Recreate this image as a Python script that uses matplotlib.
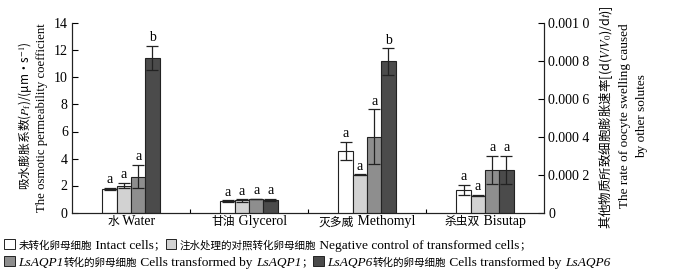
import numpy as np
import matplotlib
matplotlib.use("Agg")
import matplotlib.pyplot as plt
from matplotlib.patches import Rectangle
from matplotlib.offsetbox import HPacker, TextArea, DrawingArea, AnchoredOffsetbox
from matplotlib.transforms import blended_transform_factory

plt.rcParams['font.family'] = ['Liberation Serif', 'Noto Sans CJK SC']
plt.rcParams['mathtext.fontset'] = 'stix'

# ---------------- data ----------------
groups_cn = ["水", "甘油", "灭多威", "杀虫双"]
groups_en = ["Water", "Glycerol", "Methomyl", "Bisutap"]
# Water on left axis (Pf, um/s)
water_vals = [1.75, 2.0, 2.66, 11.45]
water_errs = [0.1, 0.22, 0.88, 0.9]
# Other solutes on right axis (d(V/V0)/dt)
glycerol_vals = [0.000061, 0.000064, 0.000071, 0.000066]
glycerol_errs = [0.000004, 0.000006, 0.000002, 0.000006]
methomyl_vals = [0.000326, 0.000201, 0.000400, 0.000800]
methomyl_errs = [0.000049, 0.000002, 0.000146, 0.000070]
bisutap_vals = [0.000121, 0.000089, 0.000224, 0.000224]
bisutap_errs = [0.000026, 0.000004, 0.000075, 0.000075]
letters = [["a", "a", "a", "b"],
           ["a", "a", "a", "a"],
           ["a", "a", "a", "b"],
           ["a", "a", "a", "a"]]
left_ticks = [0, 2, 4, 6, 8, 10, 12, 14]
right_ticks = [0, 0.0002, 0.0004, 0.0006, 0.0008, 0.0010]
right_ticklabels = ["0", "0.000 2", "0.000 4", "0.000 6", "0.000 8", "0.001 0"]
colors = ["#ffffff", "#d2d2d2", "#8e8e8e", "#4b4b4b"]

LAT = 'Liberation Serif'
CJK = 'Noto Sans CJK SC'
FS = 10      # latin text size
FS_CJK = 8   # chinese text size

fig = plt.figure(figsize=(6.85, 2.76), dpi=100)
ax = fig.add_axes([72/685, 1-212.5/276, (544-72)/685, (212.5-23.5)/276])
ax2 = ax.twinx()

bw = 0.121
offsets = (np.arange(4) - 1.5) * bw
edge = "#222222"
ecol = "#222222"

# water on left axis
for i in range(4):
    x = 0 + offsets[i]
    ax.bar(x, water_vals[i], bw, color=colors[i], edgecolor=edge, linewidth=0.8)
    ax.errorbar(x, water_vals[i], yerr=water_errs[i], fmt='none', ecolor=ecol,
                elinewidth=0.9, capsize=4.5, capthick=0.9)
    ax.text(x, water_vals[i] + water_errs[i] + 0.12, letters[0][i], ha='center',
            va='bottom', fontsize=FS, family=LAT)

# others on right axis
others = [(glycerol_vals, glycerol_errs), (methomyl_vals, methomyl_errs),
          (bisutap_vals, bisutap_errs)]
for g, (vals, errs) in enumerate(others, start=1):
    for i in range(4):
        x = g + offsets[i]
        ax2.bar(x, vals[i], bw, color=colors[i], edgecolor=edge, linewidth=0.8)
        ax2.errorbar(x, vals[i], yerr=errs[i], fmt='none', ecolor=ecol,
                     elinewidth=0.9, capsize=4.5, capthick=0.9)
        ax2.text(x, vals[i] + errs[i] + 0.000008, letters[g][i], ha='center',
                 va='bottom', fontsize=FS, family=LAT)

ax.set_xlim(-0.5, 3.5)
ax.set_ylim(0, 14)
ax2.set_ylim(0, 0.001)
ax.set_yticks(left_ticks)
ax.set_yticklabels([str(t) for t in left_ticks], fontsize=FS, family=LAT)
ax2.set_yticks(right_ticks)
ax2.set_yticklabels(right_ticklabels, fontsize=FS, family=LAT)
ax.set_xticks(range(4))
ax.set_xticklabels([""] * 4)
ax.set_xticks([0.5, 1.5, 2.5], minor=True)
ax.tick_params(axis='x', which='major', length=0)
ax.tick_params(axis='x', which='minor', direction='in', length=3, width=0.8)
ax.tick_params(axis='y', direction='in', length=4, width=0.8, pad=3)
ax2.tick_params(axis='y', direction='in', length=4, width=0.8, pad=3)
for a in (ax, ax2):
    a.spines['top'].set_visible(False)
    for s in ('left', 'right', 'bottom'):
        a.spines[s].set_linewidth(0.8)
        a.spines[s].set_color('#222222')

def ta(s, italic=False, cjk=False, size=None):
    fam = [CJK, LAT] if cjk else [LAT, CJK]
    fs = size if size is not None else (FS_CJK if cjk else FS)
    return TextArea(s, textprops=dict(fontsize=fs, style='italic' if italic else 'normal',
                                      family=fam))

# group labels (mixed Chinese / English sizes)
trans = blended_transform_factory(ax.transData, ax.transAxes)
for i in range(4):
    lab = HPacker(children=[ta(groups_cn[i], cjk=True, size=8.5), ta(" " + groups_en[i])],
                  align='baseline', pad=0, sep=0)
    ab = AnchoredOffsetbox(loc='upper center', child=lab, pad=0, frameon=False,
                           bbox_to_anchor=(i, -0.015), bbox_transform=trans, borderpad=0)
    ax.add_artist(ab)

# y labels
fig.text(25/685, 1-116/276, "吸水膨胀系数($P_\\mathrm{f}$)/(μm·s$^{-1}$)", rotation=90,
         ha='center', va='center', fontsize=8.5, family=CJK)
fig.text(42/685, 1-118/276, "The osmotic permeability coefficient", rotation=90,
         ha='center', va='center', fontsize=9.2, family=LAT)
fig.text(606/685, 1-117/276, "其他物质所致细胞膨胀速率[(d($V/V_0$)/d$t$)]", rotation=90,
         ha='center', va='center', fontsize=9.0, family=CJK)
fig.text(625/685, 1-116/276, "The rate of oocyte swelling caused", rotation=90,
         ha='center', va='center', fontsize=9.5, family=LAT)
fig.text(642/685, 1-116/276, "by other solutes", rotation=90,
         ha='center', va='center', fontsize=9.5, family=LAT)

# custom legend rows
LFS = 9.6
LFS_CJK = 7.6

def box(color):
    da = DrawingArea(11, 8, 0, 0)
    da.add_artist(Rectangle((1, 0), 7.5, 7.5, facecolor=color, edgecolor='#222222', lw=0.7))
    return da

def lt(s, italic=False):
    return ta(s, italic=italic, size=LFS)

def lc(s):
    return ta(s, cjk=True, size=LFS_CJK)

row1 = HPacker(children=[box(colors[0]), lc("未转化卵母细胞"), lt(" Intact cells"), lc("；"),
                         box(colors[1]), lc("注水处理的对照转化卵母细胞"),
                         lt(" Negative control of transformed cells"), lc("；")],
               align='baseline', pad=0, sep=0)
row2 = HPacker(children=[box(colors[2]), lt("LsAQP1", True), lc("转化的卵母细胞"),
                         lt(" Cells transformed by "), lt("LsAQP1", True), lc("；"),
                         box(colors[3]), lt("LsAQP6", True), lc("转化的卵母细胞"),
                         lt(" Cells transformed by "), lt("LsAQP6", True)],
               align='baseline', pad=0, sep=0)
for row, yy in ((row1, 245), (row2, 262)):
    ab = AnchoredOffsetbox(loc='center left', child=row, pad=0, frameon=False,
                           bbox_to_anchor=(3/685, 1-yy/276), bbox_transform=fig.transFigure,
                           borderpad=0)
    fig.add_artist(ab)

fig.savefig("out.png", dpi=100)
